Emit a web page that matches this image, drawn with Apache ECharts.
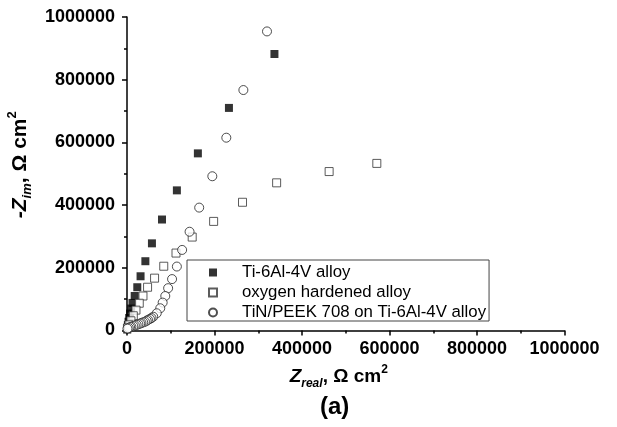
<!DOCTYPE html>
<html>
<head>
<meta charset="utf-8">
<script src="https://cdn.jsdelivr.net/npm/echarts@6/dist/echarts.min.js"></script>
<style>
  html, body { margin: 0; padding: 0; background: #fff; }
  #main { width: 617px; height: 427px; }
</style>
</head>
<body>
<div id="main"></div>
<script>
// values (Z in ohm cm2)
const tiAlloyReal = [337000, 233000, 162000, 114000, 80000, 57000, 42000, 31000, 23500, 17600, 12500, 9500, 7000, 5000, 3500, 2000, 1000, 500]
const tiAlloyIm = [882000, 710000, 565000, 447000, 354000, 278000, 221000, 173000, 138000, 110000, 88000, 70000, 54000, 40000, 28000, 17000, 8000, 3000]

const oxyReal = [571000, 462000, 342000, 264000, 198000, 149000, 112000, 84000, 63000, 47000, 36500, 28000, 20500, 14400, 9000, 4600, 1000]
const oxyIm = [533000, 507000, 471000, 409000, 348000, 298000, 247000, 205000, 167000, 138000, 110000, 87000, 65000, 47000, 31000, 18000, 8000]

const peekReal = [320000, 266000, 227000, 195000, 165000, 143000, 126000, 114000, 103000, 94000, 87500, 81500, 76000, 68000, 60000, 56000, 52500, 48000, 45000, 41000, 37000, 33000, 30000, 26000, 22000, 18000, 14400, 10000, 7000, 4000, 1000]
const peekIm = [954000, 767000, 615000, 492000, 392000, 315000, 257000, 204000, 164000, 135000, 110000, 89000, 71000, 55000, 44000, 40000, 37000, 34000, 31000, 28000, 26000, 24000, 22000, 20000, 18000, 16000, 14000, 12000, 11000, 8000, 6000]

const seriesNames = ['Ti-6Al-4V alloy', 'oxygen hardened alloy', 'TiN/PEEK 708 on Ti-6Al-4V alloy']

const pairs = (xs, ys) => xs.map((v, i) => [v, ys[i]])

const font = 'Arial, "Liberation Sans", sans-serif'

// rich styles for the axis titles (subscript / superscript)
function nameRich (size, small) {
  return {
    zi: { fontFamily: font, fontWeight: 'bold', fontStyle: 'italic', fontSize: size, lineHeight: size + 7, color: '#000' },
    sub: { fontFamily: font, fontWeight: 'bold', fontStyle: 'italic', fontSize: small, lineHeight: small, verticalAlign: 'bottom', color: '#000' },
    b: { fontFamily: font, fontWeight: 'bold', fontSize: size, lineHeight: size + 7, color: '#000' },
    sup: { fontFamily: font, fontWeight: 'bold', fontSize: small, lineHeight: small, verticalAlign: 'top', color: '#000' }
  }
}

const axisCommon = {
  type: 'value',
  min: 0,
  max: 1000000,
  interval: 200000,
  splitLine: { show: false },
  axisLine: { show: true, onZero: false, lineStyle: { color: '#000', width: 1.5 } },
  axisTick: { show: true, inside: false, length: 5, lineStyle: { color: '#000', width: 1.5 } },
  minorTick: { show: true, splitNumber: 2, length: 3, lineStyle: { color: '#000', width: 1.5 } },
  axisLabel: {
    color: '#000',
    fontFamily: font,
    fontWeight: 'bold',
    fontSize: 18,
    formatter: (v) => String(v)
  },
  nameLocation: 'middle'
}

const chart = echarts.init(document.getElementById('main'))

chart.setOption({
  animation: false,
  grid: { left: 127, right: 52.5, top: 17, bottom: 96.5, containLabel: false, outerBoundsMode: 'none' },
  legend: {
    orient: 'vertical',
    left: 187,
    top: 260,
    padding: [4, 3, 0, 21],
    itemGap: 3,
    itemWidth: 8,
    itemHeight: 8,
    borderColor: '#444',
    borderWidth: 1,
    backgroundColor: '#fff',
    textStyle: { color: '#000', fontFamily: font, fontSize: 16.8, padding: [0, 0, 0, 20] },
    data: seriesNames
  },
  xAxis: Object.assign({}, axisCommon, {
    axisLabel: Object.assign({}, axisCommon.axisLabel, { margin: 10 }),
    name: '{zi|Z}{sub|real}{b|, Ω cm}{sup|2}',
    nameGap: 30,
    nameTextStyle: { rich: nameRich(19, 12), padding: [0, 14, 0, 0] }
  }),
  yAxis: Object.assign({}, axisCommon, {
    axisLabel: Object.assign({}, axisCommon.axisLabel, { margin: 12 }),
    name: '{zi|-Z}{sub|im}{b|, Ω cm}{sup|2}',
    nameGap: 71,
    nameTextStyle: { rich: nameRich(21, 13), padding: [0, 0, 0, 18] }
  }),
  graphic: [{
    type: 'text',
    left: 320,
    top: 395,
    style: { text: '(a)', font: 'bold 24px ' + font, fill: '#000' }
  }],
  series: [
    {
      name: seriesNames[0],
      type: 'scatter',
      symbol: 'rect',
      symbolSize: 8,
      itemStyle: { color: '#000', borderColor: '#000', borderWidth: 0 },
      data: pairs(tiAlloyReal, tiAlloyIm)
    },
    {
      name: seriesNames[1],
      type: 'scatter',
      symbol: 'rect',
      symbolSize: 8,
      itemStyle: { color: '#fff', borderColor: '#333', borderWidth: 1 },
      data: pairs(oxyReal, oxyIm)
    },
    {
      name: seriesNames[2],
      type: 'scatter',
      symbol: 'circle',
      symbolSize: 9,
      itemStyle: { color: '#fff', borderColor: '#222', borderWidth: 1 },
      data: pairs(peekReal, peekIm)
    }
  ]
})
</script>
</body>
</html>
